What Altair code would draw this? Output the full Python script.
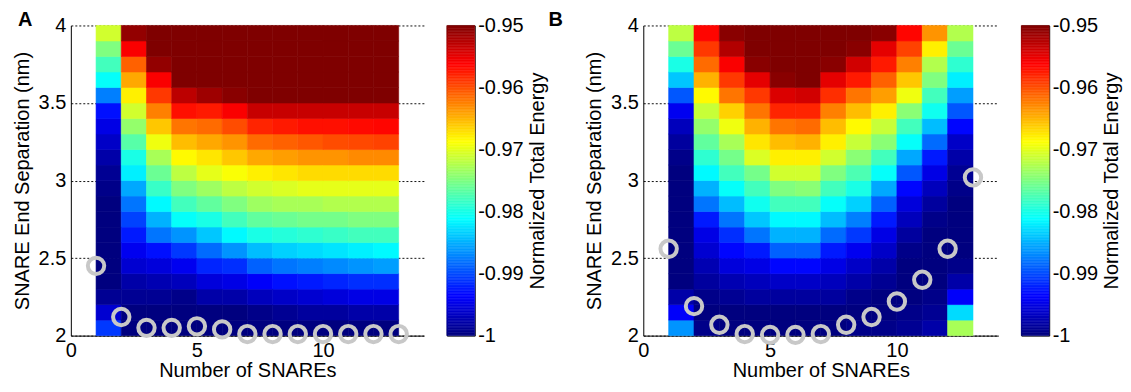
import altair as alt
import numpy as np
import pandas as pd

# Row bottoms of the separation grid (nm); each row is 0.1 nm tall
D_ROWS = [2.0, 2.1, 2.2, 2.3, 2.4, 2.5, 2.6, 2.7, 2.8, 2.9,
          3.0, 3.1, 3.2, 3.3, 3.4, 3.5, 3.6, 3.7, 3.8, 3.9]

# Panel A: normalized energy per column (N = 1..12), rows bottom -> top
A1 = [-0.991, -0.996, -0.999, -1.0, -1.0, -1.0, -1.0, -1.0, -1.0, -0.9995,
      -0.999, -0.998, -0.9965, -0.995, -0.993, -0.9875, -0.981, -0.978, -0.975, -0.971]
A2 = [-1.0, -1.0, -0.999, -0.998, -0.996, -0.9945, -0.9925, -0.9905, -0.988, -0.9855,
      -0.982, -0.980, -0.977, -0.974, -0.971, -0.968, -0.9645, -0.961, -0.956, -0.951]
A3 = [-1.0, -1.0, -0.999, -0.9975, -0.9955, -0.993, -0.988, -0.985, -0.9815, -0.9785,
      -0.976, -0.973, -0.9695, -0.966, -0.9625, -0.959, -0.956, -0.951, -0.950, -0.949]
A4 = [-1.0, -1.0, -0.9995, -0.997, -0.9945, -0.991, -0.9865, -0.981, -0.978, -0.975,
      -0.972, -0.9685, -0.9655, -0.962, -0.957, -0.953, -0.9495, -0.949, -0.949, -0.949]
A5 = [-1.0, -1.0, -0.998, -0.9955, -0.992, -0.9885, -0.984, -0.980, -0.9765, -0.9735,
      -0.970, -0.9675, -0.9645, -0.9615, -0.9575, -0.9515, -0.949, -0.949, -0.949, -0.949]
A6 = [-1.0, -1.0, -0.998, -0.995, -0.9915, -0.9865, -0.9815, -0.978, -0.975, -0.972,
      -0.969, -0.966, -0.9635, -0.960, -0.956, -0.9505, -0.949, -0.949, -0.949, -0.949]
A7 = [-1.0, -0.9995, -0.997, -0.994, -0.989, -0.9845, -0.980, -0.9765, -0.9735, -0.971,
      -0.968, -0.9645, -0.9615, -0.958, -0.9535, -0.949, -0.949, -0.949, -0.949, -0.949]
A8 = [-1.0, -0.999, -0.9965, -0.993, -0.988, -0.9835, -0.9795, -0.976, -0.973, -0.9705,
      -0.9675, -0.964, -0.961, -0.9575, -0.9535, -0.949, -0.949, -0.949, -0.949, -0.949]
A9 = [-1.0, -0.9985, -0.996, -0.9925, -0.9875, -0.983, -0.979, -0.9755, -0.973, -0.970,
      -0.967, -0.9635, -0.9605, -0.957, -0.9535, -0.949, -0.949, -0.949, -0.949, -0.949]
A10 = [-1.0, -0.9985, -0.9955, -0.992, -0.987, -0.9825, -0.9785, -0.9755, -0.9725, -0.970,
       -0.967, -0.9635, -0.960, -0.957, -0.9535, -0.949, -0.949, -0.949, -0.949, -0.949]
A11 = [-1.0, -0.998, -0.995, -0.9915, -0.9865, -0.982, -0.978, -0.975, -0.9725, -0.970,
       -0.967, -0.963, -0.9598, -0.9567, -0.9535, -0.949, -0.949, -0.949, -0.949, -0.949]
A12 = [-1.0, -0.998, -0.995, -0.9915, -0.986, -0.9815, -0.978, -0.975, -0.9725, -0.970,
       -0.967, -0.963, -0.9595, -0.9565, -0.9535, -0.949, -0.949, -0.949, -0.949, -0.949]

# Panel B
B1 = [-0.9865, -0.994, -0.998, -1.0, -1.0, -1.0, -1.0, -1.0, -1.0, -1.0,
      -1.0, -0.9995, -0.9985, -0.997, -0.9945, -0.9895, -0.984, -0.980, -0.976, -0.972]
B2 = [-0.9995, -1.0, -0.9995, -0.9985, -0.9975, -0.996, -0.995, -0.9925, -0.988, -0.985,
      -0.9815, -0.979, -0.9765, -0.974, -0.9715, -0.9685, -0.965, -0.9615, -0.959, -0.9565]
B3 = [-1.0, -1.0, -0.999, -0.9975, -0.9955, -0.9935, -0.9915, -0.988, -0.9845, -0.981,
      -0.978, -0.9755, -0.973, -0.9695, -0.9665, -0.962, -0.959, -0.956, -0.9525, -0.9505]
B4 = [-1.0, -1.0, -0.9985, -0.997, -0.995, -0.9925, -0.988, -0.984, -0.9805, -0.978,
      -0.9755, -0.9705, -0.9675, -0.965, -0.962, -0.959, -0.955, -0.9505, -0.949, -0.949]
B5 = [-1.0, -1.0, -0.9985, -0.9965, -0.9935, -0.989, -0.985, -0.9815, -0.978, -0.975,
      -0.971, -0.968, -0.9655, -0.962, -0.958, -0.9545, -0.9505, -0.949, -0.949, -0.949]
B6 = [-1.0, -1.0, -0.9985, -0.9965, -0.9935, -0.989, -0.985, -0.9815, -0.978, -0.9745,
      -0.971, -0.968, -0.965, -0.9615, -0.958, -0.954, -0.950, -0.949, -0.949, -0.949]
B7 = [-1.0, -1.0, -0.9985, -0.997, -0.995, -0.9925, -0.9885, -0.9845, -0.981, -0.978,
      -0.975, -0.971, -0.968, -0.9655, -0.9625, -0.9585, -0.955, -0.9505, -0.949, -0.949]
B8 = [-0.9995, -1.0, -0.9995, -0.998, -0.9965, -0.9945, -0.991, -0.9875, -0.9835, -0.980,
      -0.9775, -0.9745, -0.9715, -0.9685, -0.9655, -0.962, -0.9575, -0.954, -0.9505, -0.949]
B9 = [-0.9995, -1.0, -1.0, -0.999, -0.998, -0.9965, -0.995, -0.9925, -0.989, -0.9855,
      -0.981, -0.978, -0.9745, -0.9715, -0.968, -0.964, -0.961, -0.9575, -0.955, -0.9505]
B10 = [-0.999, -0.9995, -1.0, -1.0, -1.0, -0.9995, -0.9985, -0.997, -0.9955, -0.9935,
       -0.9895, -0.9855, -0.981, -0.978, -0.9745, -0.9695, -0.966, -0.9625, -0.9595, -0.9565]
B11 = [-0.998, -0.999, -0.9995, -1.0, -1.0, -1.0, -1.0, -0.9995, -0.9985, -0.997,
       -0.995, -0.9925, -0.9885, -0.9845, -0.9805, -0.978, -0.975, -0.9725, -0.968, -0.9635]
B12 = [-0.973, -0.983, -0.994, -0.998, -0.9995, -1.0, -1.0, -1.0, -1.0, -0.9995,
       -0.999, -0.998, -0.9965, -0.9935, -0.9895, -0.986, -0.982, -0.979, -0.976, -0.9725]

A_COLS = [A1, A2, A3, A4, A5, A6, A7, A8, A9, A10, A11, A12]
B_COLS = [B1, B2, B3, B4, B5, B6, B7, B8, B9, B10, B11, B12]

# Energy-minimum separations (circles) for N = 1..13
N_MARK = [1, 2, 3, 4, 5, 6, 7, 8, 9, 10, 11, 12, 13]
A_MIN = [2.45, 2.12, 2.05, 2.05, 2.06, 2.04, 2.01, 2.01, 2.01, 2.01, 2.01, 2.01, 2.01]
B_MIN = [2.56, 2.19, 2.07, 2.01, 2.005, 2.005, 2.01, 2.07, 2.12, 2.22, 2.36, 2.56, 3.02]

X_TICKS = [0, 5, 10]
Y_TICKS = [2, 2.5, 3, 3.5, 4]
CB_TICKS = [-1, -0.99, -0.98, -0.97, -0.96, -0.95]

# jet colormap stops over [-1, -0.95]
JET_DOMAIN = [-1.0, -0.99375, -0.98125, -0.96875, -0.95625, -0.95]
JET_RANGE = ["#00007f", "#0000ff", "#00ffff", "#ffff00", "#ff0000", "#7f0000"]

FONT = "Liberation Sans"
FS = 20
H = 311


def heat_df(cols):
    rows = []
    for i, col in enumerate(cols):
        for j, e in enumerate(col):
            rows.append({"n": i + 1, "n1": i + 2, "d0": D_ROWS[j],
                         "d1": round(D_ROWS[j] + 0.1, 2), "E": e})
    return pd.DataFrame(rows)


def cscale():
    return alt.Scale(domain=JET_DOMAIN, range=JET_RANGE, clamp=True, interpolate="rgb")


def panel(cols, mins, letter, width, letter_dx):
    xs = alt.Scale(domain=[0, 14], nice=False, zero=False)
    ys = alt.Scale(domain=[2, 4], nice=False, zero=False)
    xaxis = alt.Axis(values=X_TICKS, title="Number of SNAREs", grid=False, ticks=False,
                     labelFlush=False, labelPadding=5, titlePadding=0)
    yaxis = alt.Axis(values=Y_TICKS, title="SNARE End Separation (nm)", format="~g",
                     grid=True, gridDash=[2, 2], gridColor="#111", gridOpacity=1,
                     ticks=False, labelPadding=5, titlePadding=6)
    heat = alt.Chart(heat_df(cols)).mark_rect(strokeWidth=0.6).encode(
        x=alt.X("n:Q", scale=xs, axis=xaxis),
        x2="n1:Q",
        y=alt.Y("d0:Q", scale=ys, axis=yaxis),
        y2="d1:Q",
        color=alt.Color("E:Q", scale=cscale(), legend=None),
        stroke=alt.Stroke("E:Q", scale=cscale(), legend=None),
    )
    mdf = pd.DataFrame({"n": N_MARK, "d0": mins})
    pts = alt.Chart(mdf).mark_point(shape="circle", filled=False, size=270,
                                    strokeWidth=4, color="#c8c8c8", opacity=1).encode(
        x=alt.X("n:Q", scale=xs, axis=xaxis),
        y=alt.Y("d0:Q", scale=ys, axis=yaxis),
    )
    lab = alt.Chart(pd.DataFrame({"t": [letter]})).mark_text(
        align="left", baseline="top", fontSize=20, fontWeight="bold", color="black",
        font=FONT).encode(x=alt.value(letter_dx), y=alt.value(-15), text="t:N")
    return alt.layer(heat, pts, lab).properties(width=width, height=H)


def colorbar():
    ramp = np.linspace(-1.0, -0.95, 201)
    cdf = pd.DataFrame({"v0": ramp[:-1], "v1": ramp[1:]})
    axis = alt.Axis(orient="right", values=CB_TICKS,
                    labelExpr="datum.value < -0.9995 ? '-1' : '-' + format(-datum.value, '.2f')",
                    title="Normalized Total Energy", titleAngle=270, titleBaseline="top",
                    ticks=False, domain=False, grid=False, labelPadding=3, titlePadding=4)
    return alt.Chart(cdf).mark_rect(strokeWidth=0.5).encode(
        x=alt.value(0), x2=alt.value(28),
        y=alt.Y("v0:Q", scale=alt.Scale(domain=[-1, -0.95], nice=False, zero=False), axis=axis),
        y2="v1:Q",
        color=alt.Color("v0:Q", scale=cscale(), legend=None),
        stroke=alt.Stroke("v0:Q", scale=cscale(), legend=None),
    ).properties(width=28, height=H, view=alt.ViewBackground(stroke="black", strokeWidth=1))


res = dict(x="independent", y="independent", color="independent", stroke="independent")

left = alt.hconcat(panel(A_COLS, A_MIN, "A", 354, -53), colorbar(), spacing=22).resolve_scale(**res)
right = alt.hconcat(panel(B_COLS, B_MIN, "B", 356, -95), colorbar(), spacing=22).resolve_scale(**res)

chart = alt.hconcat(left, right, spacing=0).resolve_scale(**res).properties(
    padding={"left": 4, "top": 2, "right": 0, "bottom": 0}
).configure(font=FONT).configure_view(stroke=None).configure_axis(
    labelFont=FONT, titleFont=FONT, labelFontSize=FS, titleFontSize=FS,
    titleFontWeight="normal", labelColor="black", titleColor="black",
    domainColor="black", domainWidth=1
)

chart.save("out.html", embed_options={"renderer": "svg", "actions": False})
